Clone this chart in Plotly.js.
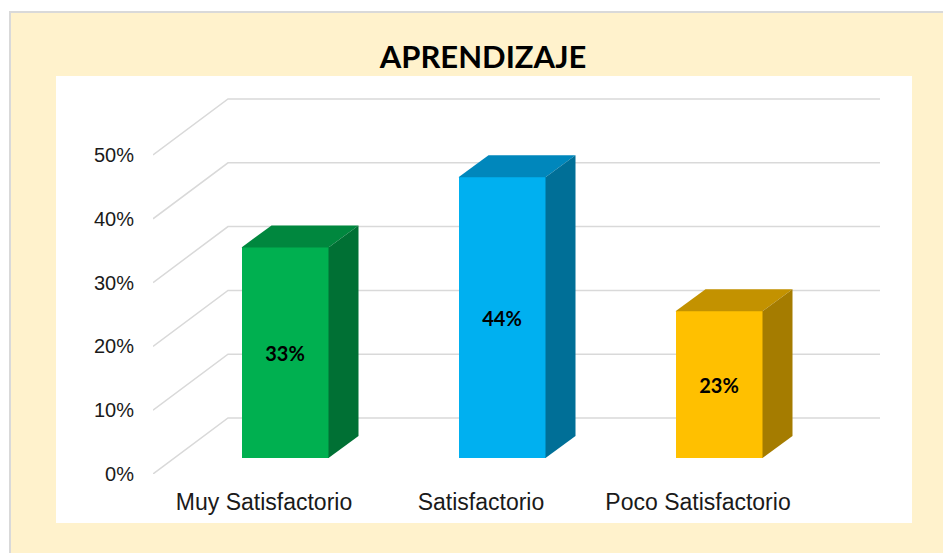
<!DOCTYPE html>
<html>
<head>
<meta charset="utf-8">
<script src="https://cdn.plot.ly/plotly-3.0.1.min.js"></script>
<style>html,body{margin:0;padding:0;background:#fff;}#chart{width:943px;height:553px;}</style>
</head>
<body>
<div id="chart"></div>
<script>
// ---- data ----
const categories = ["Muy Satisfactorio", "Satisfactorio", "Poco Satisfactorio"];
const values = [0.33, 0.44, 0.23];
const frontColors = ["#00B050", "#00B0F0", "#FFC000"];
const topColors = ["#00873E", "#0087BC", "#C39200"];
const sideColors = ["#007034", "#006F97", "#A57C00"];
const tickValues = [0, 0.1, 0.2, 0.3, 0.4, 0.5];
const tickLabels = ["0%", "10%", "20%", "30%", "40%", "50%"];
const chartTitle = "APRENDIZAJE";

// ---- geometry (pixels) ----
const W = 943, H = 553;
const plotL = 153, plotR = 880, plotT = 98, plotB = 474;
const pxPerCat = 217, pxPerUnit = 638, cat0Px = 264;
const depthX = 75, depthY = 56;       // full back-wall depth
const barFrontX = 21, barFrontY = 16; // bar front offset from front plane
const barSideX = 30, barSideY = 22;   // bar depth
const barWpx = 87;

const xMin = (plotL - cat0Px) / pxPerCat;
const xMax = (plotR - cat0Px) / pxPerCat;
const yMax = (plotB - plotT) / pxPerUnit;
const dX = depthX / pxPerCat, dY = depthY / pxPerUnit;
const fX = barFrontX / pxPerCat, fY = barFrontY / pxPerUnit;
const sX = barSideX / pxPerCat, sY = barSideY / pxPerUnit;
const bw = barWpx / pxPerCat;

const traces = [];

// front faces as bars
traces.push({
  type: "bar",
  x: categories.map((c, i) => i + fX),
  y: values,
  base: values.map(() => fY),
  width: values.map(() => bw),
  marker: {color: frontColors, line: {width: 0}},
  text: values.map(v => "<b>" + Math.round(v * 100) + "%</b>"),
  textposition: "inside",
  insidetextanchor: "middle",
  textangle: 0,
  constraintext: "none",
  textfont: {family: "Lato, 'Open Sans', sans-serif", size: 20, color: "#000"},
  hoverinfo: "skip",
  showlegend: false
});

// top and side faces
values.forEach((v, i) => {
  const xl = i + fX - bw / 2, xr = i + fX + bw / 2;
  const yb = fY, yt = v + fY;
  traces.push({type: "scatter", mode: "lines", fill: "toself",
    x: [xl, xr, xr + sX, xl + sX, xl], y: [yt, yt, yt + sY, yt + sY, yt],
    fillcolor: topColors[i], line: {width: 0, color: topColors[i]},
    hoverinfo: "skip", showlegend: false});
  traces.push({type: "scatter", mode: "lines", fill: "toself",
    x: [xr, xr + sX, xr + sX, xr, xr], y: [yb, yb + sY, yt + sY, yt, yb],
    fillcolor: sideColors[i], line: {width: 0, color: sideColors[i]},
    hoverinfo: "skip", showlegend: false});
});

const pw = plotR - plotL, ph = plotB - plotT;
const px = p => (p - plotL) / pw;
const py = p => (plotB - p) / ph;

const shapes = [
  {type: "rect", xref: "paper", yref: "paper", layer: "below",
    x0: px(10), x1: px(W + 5), y0: py(H + 5), y1: py(12),
    fillcolor: "#FFF2CC", line: {color: "#D9D9D9", width: 2}},
  {type: "rect", xref: "paper", yref: "paper", layer: "below",
    x0: px(56), x1: px(912), y0: py(523), y1: py(76),
    fillcolor: "#FFFFFF", line: {width: 0}}
];
// gridlines: floor-to-back-wall perspective lines (below the bars)
tickValues.forEach(v => {
  shapes.push({type: "path", xref: "x", yref: "y", layer: "below",
    path: "M" + xMin + "," + v + " L" + (xMin + dX) + "," + (v + dY) + " L" + xMax + "," + (v + dY),
    line: {color: "#D9D9D9", width: 1.5}});
});

const layout = {
  width: W, height: H,
  margin: {l: plotL, r: W - plotR, t: plotT, b: H - plotB, pad: 0},
  paper_bgcolor: "#FFFFFF",
  plot_bgcolor: "rgba(0,0,0,0)",
  title: {text: "<b>" + chartTitle + "</b>", x: 483 / W, xanchor: "center",
    y: 1 - 57 / H, yanchor: "middle",
    font: {family: "Lato, 'Open Sans', sans-serif", size: 31, color: "#000"}},
  xaxis: {range: [xMin, xMax], tickvals: [0, 1, 2], ticktext: categories,
    showgrid: false, zeroline: false, showline: false, ticks: "",
    ticklabelstandoff: 12,
    tickfont: {family: "'Liberation Sans', Arial, sans-serif", size: 23, color: "#1a1a1a"},
    fixedrange: true},
  yaxis: {range: [0, yMax], tickvals: tickValues, ticktext: tickLabels,
    showgrid: false, zeroline: false, showline: false, ticks: "",
    ticklabelstandoff: 18,
    tickfont: {family: "'Liberation Sans', Arial, sans-serif", size: 20, color: "#1a1a1a"},
    fixedrange: true},
  bargap: 0,
  shapes: shapes,
  showlegend: false
};

Plotly.newPlot("chart", traces, layout, {staticPlot: true, displayModeBar: false});
</script>
</body>
</html>
